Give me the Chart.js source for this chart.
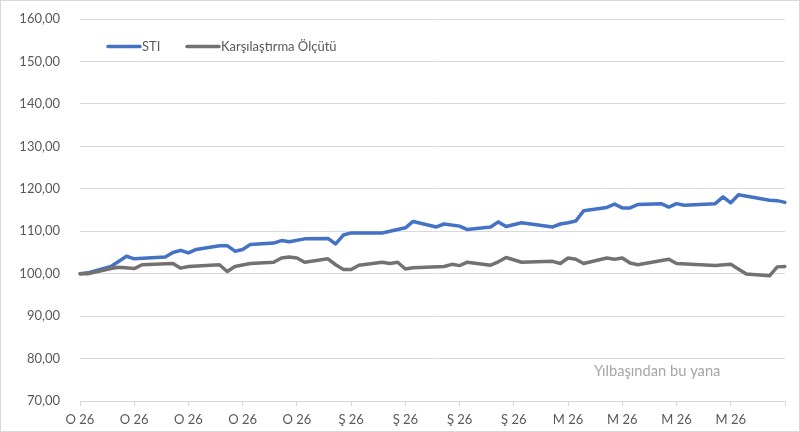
<!DOCTYPE html>
<html>
<head>
<meta charset="utf-8">
<script src="https://cdn.jsdelivr.net/npm/chart.js@4.4.1/dist/chart.umd.min.js"></script>
<style>
  html, body { margin: 0; padding: 0; background: #ffffff; }
  #wrap { width: 800px; height: 432px; }
</style>
</head>
<body>
<div id="wrap"><canvas id="c" width="800" height="432"></canvas></div>
<script>
// Daily categories (calendar days from 1 Jan 2026)
const categories = [];
for (let i = 0; i < 92; i++) {
  const d = new Date(Date.UTC(2026, 0, 1 + i));
  categories.push(d.toISOString().slice(0, 10));
}
// Tick labels shown every 7 days
const tickLabels = ['O 26','O 26','O 26','O 26','O 26','Ş 26','Ş 26','Ş 26','Ş 26','M 26','M 26','M 26','M 26'];
const seriesNames = ['STI', 'Karşılaştırma Ölçütü'];
const noteText = 'Yılbaşından bu yana';

const sti = [
  100.0, 100.2, null, null, 101.7, null, 104.1,
  103.5, null, null, null, 103.9, 105.0, 105.5,
  104.9, 105.7, null, null, 106.6, 106.6, 105.3,
  105.7, 106.9, null, null, 107.2, 107.8, 107.5,
  null, 108.2, null, null, 108.3, 107.0, 109.1,
  109.6, null, null, null, 109.6, null, 110.4,
  110.8, 112.3, null, null, 111.0, 111.7, null,
  111.2, 110.4, null, null, 111.0, 112.2, 111.1,
  null, 112.0, null, null, null, 111.0, 111.7,
  112.0, 112.4, 114.8, null, null, 115.6, 116.4,
  115.5, 115.5, 116.3, null, null, 116.5, 115.7,
  116.5, 116.1, null, null, null, 116.5, 118.1,
  116.7, 118.6, null, null, null, 117.3, 117.2,
  116.8
];
const benchmark = [
  100.0, 100.0, null, null, 101.2, 101.5, null,
  101.2, 102.1, null, null, null, 102.4, 101.3,
  101.7, null, null, null, 102.1, 100.5, 101.7,
  null, 102.4, null, null, 102.7, 103.7, 103.9,
  103.7, 102.7, null, null, 103.5, 102.1, 101.0,
  101.0, 102.0, null, null, 102.7, 102.4, 102.7,
  101.1, 101.4, null, null, null, 101.7, 102.2,
  101.9, 102.7, null, null, 102.0, 102.8, 103.8,
  null, 102.7, null, null, null, 102.9, 102.4,
  103.7, 103.4, 102.4, null, null, 103.7, 103.4,
  103.7, 102.5, 102.1, null, null, null, 103.4,
  102.4, null, null, null, null, 101.9, null,
  102.2, null, 99.9, null, null, 99.5, 101.6,
  101.7
];

const BLUE = '#4472C4';
const GRAY = '#767171';
const TXT = '#595959';
const FONT = 'Lato, "Open Sans", sans-serif';

const decorPlugin = {
  id: 'decor',
  beforeDraw(chart) {
    const c = chart.ctx;
    c.save();
    c.fillStyle = '#ffffff';
    c.fillRect(0, 0, chart.width, chart.height);
    c.restore();
  },
  afterDraw(chart) {
    const c = chart.ctx;
    c.save();
    // chart border
    c.strokeStyle = '#d9d9d9';
    c.lineWidth = 1;
    c.strokeRect(0.5, 0.5, chart.width - 1, chart.height - 1);
    // legend
    const y = 46.5;
    const items = [
      { x: 108, color: BLUE, text: seriesNames[0] },
      { x: 187, color: GRAY, text: seriesNames[1] }
    ];
    c.font = '13px ' + FONT;
    c.textBaseline = 'middle';
    c.textAlign = 'left';
    items.forEach(it => {
      c.strokeStyle = it.color;
      c.lineWidth = 3.5;
      c.lineCap = 'round';
      c.beginPath();
      c.moveTo(it.x, y);
      c.lineTo(it.x + 32, y);
      c.stroke();
      c.fillStyle = TXT;
      c.fillText(it.text, it.x + 34, y);
    });
    // note
    c.font = '14.7px ' + FONT;
    c.fillStyle = '#a6a6a6';
    c.textAlign = 'left';
    c.fillText(noteText, 594, 371);
    c.restore();
  }
};

new Chart(document.getElementById('c'), {
  type: 'line',
  data: {
    labels: categories,
    datasets: [
      { label: seriesNames[0], data: sti, borderColor: BLUE, backgroundColor: BLUE,
        borderWidth: 3.5, pointRadius: 0, tension: 0, spanGaps: true,
        borderJoinStyle: 'round', borderCapStyle: 'round', order: 1 },
      { label: seriesNames[1], data: benchmark, borderColor: GRAY, backgroundColor: GRAY,
        borderWidth: 3.5, pointRadius: 0, tension: 0, spanGaps: true,
        borderJoinStyle: 'round', borderCapStyle: 'round', order: 0 }
    ]
  },
  plugins: [decorPlugin],
  options: {
    responsive: false,
    animation: false,
    events: [],
    layout: { padding: { top: 19, right: 15, left: 0, bottom: 0 } },
    plugins: { legend: { display: false }, tooltip: { enabled: false } },
    scales: {
      x: {
        offset: false,
        grid: { drawOnChartArea: false, color: '#d9d9d9', tickLength: 5, lineWidth: 1 },
        border: { display: true, color: '#d9d9d9', width: 1 },
        ticks: {
          autoSkip: false, maxRotation: 0, minRotation: 0, padding: 6,
          color: TXT, font: { family: FONT, size: 13 },
          callback: function (v, idx) {
            if (idx % 7 !== 0) return null;
            const t = tickLabels[idx / 7];
            return t === undefined ? '' : t;
          }
        },
        afterFit: function (s) { s.height = 31; s.paddingLeft = 0; s.paddingRight = 0; }
      },
      y: {
        min: 70, max: 160,
        grid: { color: '#d9d9d9', drawTicks: false, lineWidth: 1 },
        border: { display: false },
        ticks: {
          stepSize: 10, padding: 20, color: TXT, font: { family: FONT, size: 13 },
          callback: v => v.toFixed(2).replace('.', ',')
        },
        afterFit: function (s) { s.width = 80; s.paddingTop = 0; s.paddingBottom = 0; }
      }
    }
  }
});
</script>
</body>
</html>
